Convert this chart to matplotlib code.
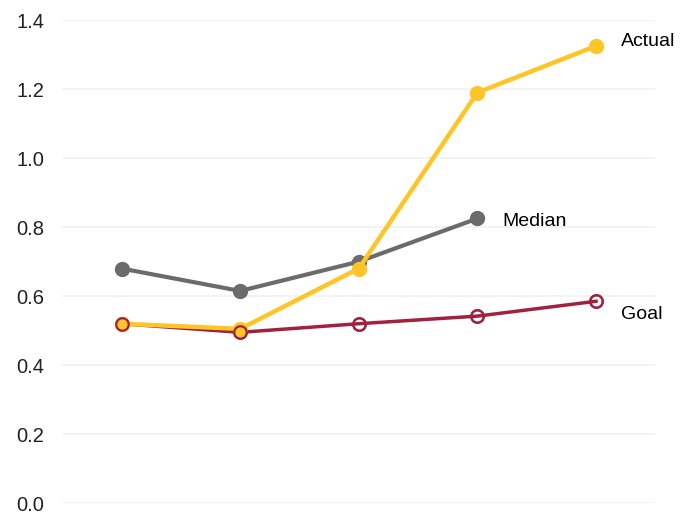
import matplotlib.pyplot as plt

plt.rcParams['font.family'] = ['Liberation Sans', 'DejaVu Sans']

periods = [0, 1, 2, 3, 4]
actual = [0.52, 0.505, 0.68, 1.19, 1.325]
median = [0.68, 0.615, 0.70, 0.825]
goal = [0.52, 0.495, 0.52, 0.542, 0.585]
yticks = [0.0, 0.2, 0.4, 0.6, 0.8, 1.0, 1.2, 1.4]

c_actual = '#FFC425'
c_median = '#6B6B6B'
c_goal = '#A1213F'

fig = plt.figure(figsize=(6.92, 5.16), dpi=100)
ax = fig.add_axes([0.09, 0.025, 0.857, 0.936])

ax.plot(periods[:len(median)], median, color=c_median, lw=3, marker='o',
        ms=10, clip_on=False, zorder=3)
ax.plot(periods, goal, color=c_goal, lw=2.5, marker='o', ms=9,
        mfc='none', mew=1.6, clip_on=False, zorder=4)
ax.plot(periods, actual, color=c_actual, lw=3.2, marker='o', ms=10,
        clip_on=False, zorder=5)
# goal markers drawn over actual where they overlap
ax.plot(periods, goal, ls='none', marker='o', ms=9, mfc='none',
        mec=c_goal, mew=1.6, clip_on=False, zorder=6)

ax.annotate('Actual', (periods[-1], actual[-1]), xytext=(18, 3.5),
            textcoords='offset points', va='center', fontsize=14)
ax.annotate('Median', (periods[len(median) - 1], median[-1]), xytext=(18, -2),
            textcoords='offset points', va='center', fontsize=14)
ax.annotate('Goal', (periods[-1], goal[-1]), xytext=(18, -9.5),
            textcoords='offset points', va='center', fontsize=14)

ax.set_xlim(-0.5, 4.5)
ax.set_ylim(0, 1.4)
ax.set_yticks(yticks)
ax.set_yticklabels([f'{v:.1f}' for v in yticks])
ax.set_xticks([])
ax.tick_params(axis='y', length=0, pad=13, labelsize=14.5, labelcolor='#222222')
ax.grid(axis='y', color='#f1f1f1', lw=1.2)
ax.set_axisbelow(True)
for s in ax.spines.values():
    s.set_visible(False)

fig.savefig('out.png', dpi=100, facecolor='white')
